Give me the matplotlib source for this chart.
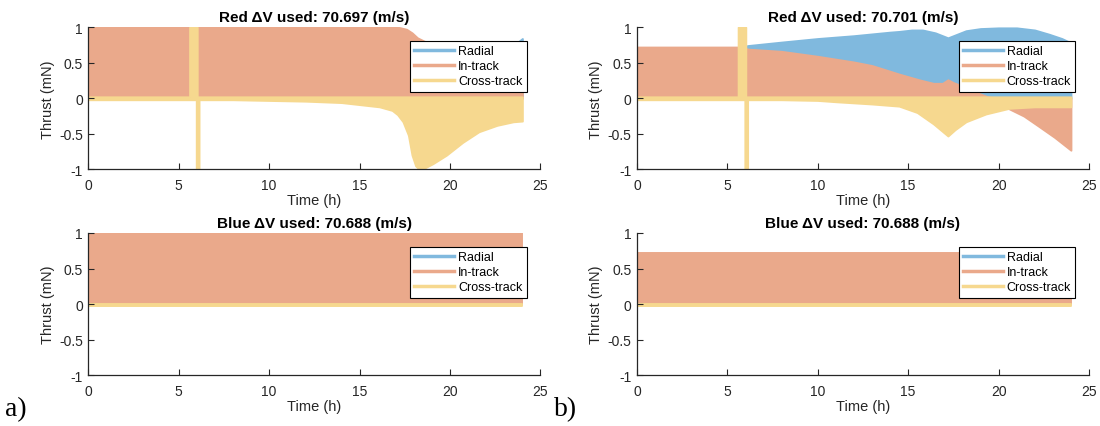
import matplotlib

matplotlib.use("Agg")
import matplotlib.pyplot as plt
from matplotlib.lines import Line2D


# thrust envelopes (upper / lower edge of the dense on-off signal)
COMPONENTS = ["Radial", "In-track", "Cross-track"]
COLORS = ["#80B9DE", "#EAA98B", "#F6D88F"]

YTICKS = [-1, -0.5, 0, 0.5, 1]
YTICK_LABELS = ["-1", "-0.5", "0", "0.5", "1"]
XTICKS = [0, 5, 10, 15, 20, 25]

TITLES = {
    "red_a": "Red \u0394V used: 70.697 (m/s)",
    "blue_a": "Blue \u0394V used: 70.688 (m/s)",
    "red_b": "Red \u0394V used: 70.701 (m/s)",
    "blue_b": "Blue \u0394V used: 70.688 (m/s)",
}

# --- a) top: red spacecraft ---
red_a_radial_t = [0, 17, 20, 23, 23.8, 24.0]
red_a_radial_hi = [0, 0, 0.5, 0.72, 0.8, 0.84]
red_a_radial_lo = [0, 0, 0, 0, 0, 0]

red_a_intrack_t = [0, 16.5, 17.2, 17.6, 17.9, 18.2, 18.6, 20, 22, 24]
red_a_intrack_hi = [1, 1, 0.995, 0.97, 0.92, 0.85, 0.8, 0.78, 0.78, 0.8]
red_a_intrack_lo = [0, 0, 0, 0, 0, 0, 0, 0, 0, 0]

red_a_cross_t = [0, 5.6, 5.6, 5.97, 5.97, 6.02, 6.02, 6.12, 6.12, 8, 12, 14, 16.1, 16.8,
                 17.1, 17.4, 17.7, 17.9, 18.1, 18.3, 18.6, 19.05, 19.8, 20.7, 21.6, 22.6,
                 23.5, 24]
red_a_cross_hi = [0.02, 0.02, 1, 1, 1, 1, 0.02, 0.02, 0.02, 0.02, 0.02, 0.02, 0.02, 0.02,
                  0.02, 0.02, 0.02, 0.02, 0.02, 0.02, 0.02, 0.02, 0.02, 0.02, 0.02, 0.02,
                  0.02, 0.02]
red_a_cross_lo = [-0.02, -0.02, -0.02, -0.02, -1, -1, -1, -1, -0.02, -0.02, -0.04, -0.06,
                  -0.12, -0.17, -0.23, -0.33, -0.52, -0.8, -0.95, -1.0, -0.98, -0.92, -0.8,
                  -0.62, -0.47, -0.38, -0.33, -0.32]

# --- a) bottom: blue spacecraft ---
blue_a_t = [0, 24]
blue_a_radial_hi = [0, 0]
blue_a_radial_lo = [0, 0]
blue_a_intrack_hi = [1, 1]
blue_a_intrack_lo = [0, 0]
blue_a_cross_hi = [0.0, 0.0]
blue_a_cross_lo = [-0.02, -0.02]

# --- b) top: red spacecraft ---
red_b_radial_t = [0, 6.0, 6.1, 8, 10, 12, 14, 14.5, 15.2, 15.8, 16.5, 17.2, 17.6, 18.2,
                  19, 20, 21, 22, 22.8, 23.5, 24]
red_b_radial_hi = [0.7, 0.7, 0.74, 0.79, 0.84, 0.88, 0.93, 0.94, 0.96, 0.96, 0.92, 0.85,
                   0.89, 0.95, 0.98, 0.99, 0.99, 0.96, 0.9, 0.84, 0.78]
red_b_radial_lo = [0] * len(red_b_radial_t)

red_b_intrack_t = [0, 5.6, 6.2, 8, 10, 12, 13, 14.5, 15.6, 16.4, 16.9, 17.2, 17.5, 18,
                   18.8, 19.4, 20, 20.6, 21.4, 22.2, 23.1, 24]
red_b_intrack_hi = [0.72, 0.72, 0.69, 0.66, 0.59, 0.51, 0.46, 0.34, 0.26, 0.21, 0.21,
                    0.26, 0.22, 0.17, 0.08, 0.02, 0, 0, 0, 0, 0, 0]
red_b_intrack_lo = [0, 0, 0, 0, 0, 0, 0, 0, 0, 0, 0, 0, 0, 0, 0, 0, -0.05, -0.15, -0.25,
                    -0.39, -0.55, -0.73]

red_b_cross_t = [0, 5.6, 5.6, 5.97, 5.97, 6.02, 6.02, 6.12, 6.12, 8, 10, 11.1, 13, 14.5,
                 15.5, 16.4, 17.2, 17.6, 18.2, 19.3, 20.6, 22, 24]
red_b_cross_hi = [0.02, 0.02, 1, 1, 1, 1, 0.02, 0.02, 0.02, 0.02, 0.02, 0.02, 0.02, 0.02,
                  0.02, 0.02, 0.02, 0.02, 0.02, 0.02, 0.02, 0.02, 0.02]
red_b_cross_lo = [-0.02, -0.02, -0.02, -0.02, -1, -1, -1, -1, -0.02, -0.02, -0.03, -0.05,
                  -0.08, -0.11, -0.2, -0.36, -0.53, -0.44, -0.33, -0.22, -0.14, -0.12, -0.12]

# --- b) bottom: blue spacecraft ---
blue_b_t = [0, 24]
blue_b_radial_hi = [0, 0]
blue_b_radial_lo = [0, 0]
blue_b_intrack_hi = [0.72, 0.72]
blue_b_intrack_lo = [0, 0]
blue_b_cross_hi = [0.0, 0.0]
blue_b_cross_lo = [-0.02, -0.02]


plt.rcParams["font.family"] = ["Liberation Sans", "DejaVu Sans"]
plt.rcParams["axes.unicode_minus"] = False

AXIS_GREY = "#262626"


def draw_panel(ax, title, envelopes):
    for (t, hi, lo), color in zip(envelopes, COLORS):
        ax.fill_between(t, lo, hi, color=color, lw=1.4, joinstyle="round")

    ax.set_xlim(0, 25)
    ax.set_ylim(-1, 1)
    ax.set_xticks(XTICKS)
    ax.set_yticks(YTICKS)
    ax.set_yticklabels(YTICK_LABELS)
    for side in ("top", "right"):
        ax.spines[side].set_visible(False)
    for side in ("left", "bottom"):
        ax.spines[side].set_color(AXIS_GREY)
        ax.spines[side].set_linewidth(0.9)
    ax.tick_params(direction="in", length=4, width=0.8, colors=AXIS_GREY, labelsize=10,
                   labelcolor=AXIS_GREY)
    ax.tick_params(axis="x", pad=6)
    ax.tick_params(axis="y", pad=4)
    ax.set_xlabel("Time (h)", fontsize=10.5, color=AXIS_GREY, labelpad=1)
    ax.set_ylabel("Thrust (mN)", fontsize=10.5, color=AXIS_GREY, labelpad=3)
    ax.set_title(title, fontsize=11, fontweight="bold", pad=4.5)

    handles = [Line2D([], [], color=c, lw=2.5) for c in COLORS]
    leg = ax.legend(handles, COMPONENTS, loc="upper right", bbox_to_anchor=(0.97, 0.905),
                    borderaxespad=0, fontsize=9, fancybox=False, framealpha=1,
                    handlelength=3.2, handletextpad=0.3, labelspacing=0.25, borderpad=0.35)
    leg.get_frame().set_edgecolor("black")
    leg.get_frame().set_linewidth(0.8)


fig = plt.figure(figsize=(11, 4.27), dpi=100)

left_x, right_x, width = 0.0803, 0.579, 0.411
top_y, bottom_y, height = 0.601, 0.119, 0.333

ax_red_a = fig.add_axes([left_x, top_y, width, height])
ax_blue_a = fig.add_axes([left_x, bottom_y, width, height])
ax_red_b = fig.add_axes([right_x, top_y, width, height])
ax_blue_b = fig.add_axes([right_x, bottom_y, width, height])

draw_panel(ax_red_a, TITLES["red_a"], [
    (red_a_radial_t, red_a_radial_hi, red_a_radial_lo),
    (red_a_intrack_t, red_a_intrack_hi, red_a_intrack_lo),
    (red_a_cross_t, red_a_cross_hi, red_a_cross_lo),
])
draw_panel(ax_blue_a, TITLES["blue_a"], [
    (blue_a_t, blue_a_radial_hi, blue_a_radial_lo),
    (blue_a_t, blue_a_intrack_hi, blue_a_intrack_lo),
    (blue_a_t, blue_a_cross_hi, blue_a_cross_lo),
])
draw_panel(ax_red_b, TITLES["red_b"], [
    (red_b_radial_t, red_b_radial_hi, red_b_radial_lo),
    (red_b_intrack_t, red_b_intrack_hi, red_b_intrack_lo),
    (red_b_cross_t, red_b_cross_hi, red_b_cross_lo),
])
draw_panel(ax_blue_b, TITLES["blue_b"], [
    (blue_b_t, blue_b_radial_hi, blue_b_radial_lo),
    (blue_b_t, blue_b_intrack_hi, blue_b_intrack_lo),
    (blue_b_t, blue_b_cross_hi, blue_b_cross_lo),
])

fig.text(0.005, 0.04, "a)", family="Liberation Serif", fontsize=20, va="center")
fig.text(0.504, 0.04, "b)", family="Liberation Serif", fontsize=20, va="center")

fig.savefig("out.png", dpi=100)
